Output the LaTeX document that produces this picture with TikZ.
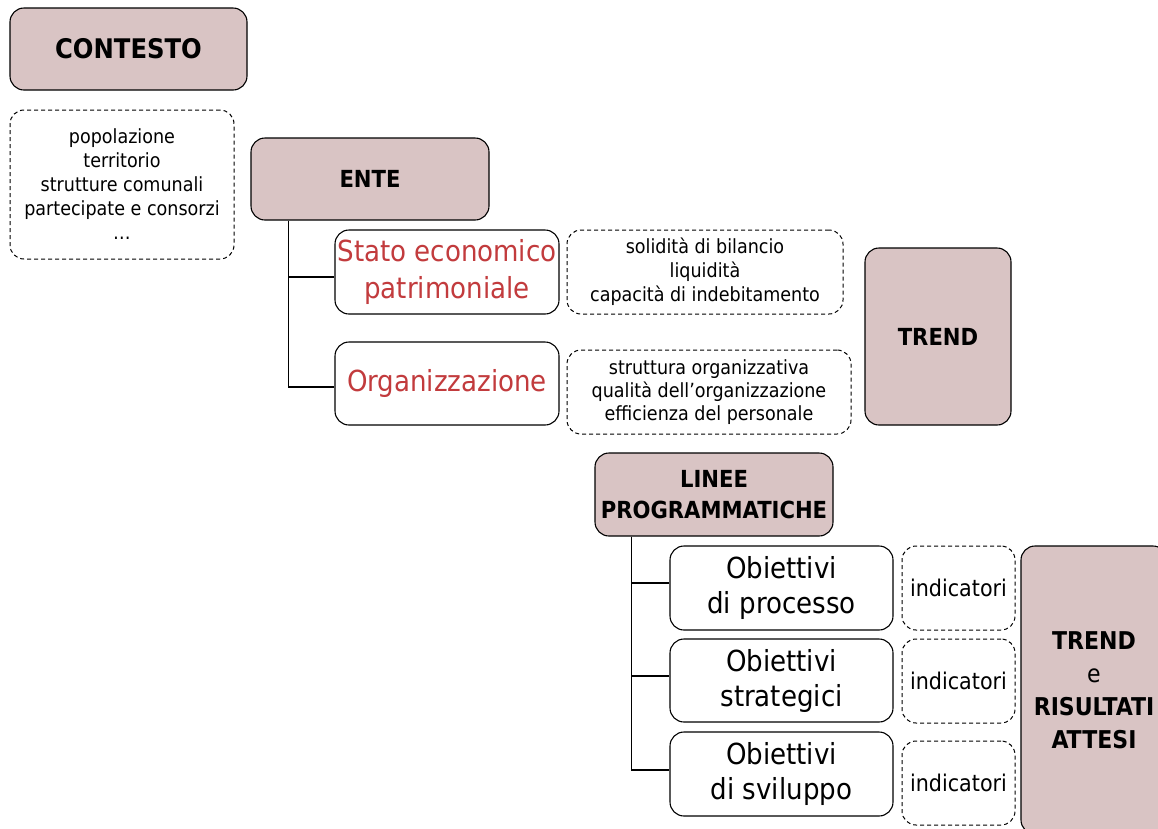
\documentclass[tikz,border=0pt]{standalone}
\usepackage{fontspec}
\setmainfont{DejaVu Sans Condensed}
\usetikzlibrary{positioning}
\definecolor{boxpink}{HTML}{D9C4C4}
\definecolor{textred}{HTML}{C23B3D}

\begin{document}
\begin{tikzpicture}[x=1pt,y=-1pt,
  headbox/.style={draw, line width=1.1pt, rounded corners=14pt, fill=boxpink, inner sep=0pt, align=center},
  itembox/.style={draw, line width=1.1pt, rounded corners=14pt, fill=white, inner sep=0pt, align=center},
  notebox/.style={draw, line width=1pt, dash pattern=on 4pt off 3pt, rounded corners=14pt, inner sep=0pt, align=center}]
\useasboundingbox (0,0) rectangle (1158,828);
\clip (0,0) rectangle (1158,828);

% contesto
\node[headbox, minimum width=237pt, minimum height=82pt, font=\fontsize{27}{32}\selectfont\bfseries] (contesto) at (128.5,49) {CONTESTO};
\node[notebox, minimum width=224pt, minimum height=149pt, font=\fontsize{19.5}{24}\selectfont] (ctxnote) at (122,184.5)
  {popolazione\\territorio\\strutture comunali\\partecipate e consorzi\\\dots};

% ente
\node[headbox, minimum width=238pt, minimum height=82pt, font=\fontsize{23.5}{28}\selectfont\bfseries] (ente) at (370,179) {ENTE};
\node[itembox, minimum width=224pt, minimum height=84pt, text=textred, font=\fontsize{29}{37}\selectfont] (stato) at (447,272) {Stato economico\\patrimoniale};
\node[notebox, minimum width=276pt, minimum height=84pt, font=\fontsize{19.5}{24}\selectfont] (statonote) at (705,272)
  {solidità di bilancio\\liquidità\\capacità di indebitamento};
\node[itembox, minimum width=224pt, minimum height=83pt, text=textred, font=\fontsize{29}{37}\selectfont] (organiz) at (447,383.5) {Organizzazione};
\node[notebox, minimum width=284pt, minimum height=84pt, font=\fontsize{19.5}{23}\selectfont] (organote) at (709,392)
  {struttura organizzativa\\qualità dell’organizzazione\\efficienza del personale};
\node[headbox, minimum width=146pt, minimum height=177pt, font=\fontsize{23.5}{28}\selectfont\bfseries] (trend) at (938,336.5) {TREND};

\draw[line width=1.1pt] ([xshift=38pt]ente.south west) |- ([yshift=-5pt]stato.west);
\draw[line width=1.1pt] ([xshift=38pt]ente.south west) |- ([yshift=-3.5pt]organiz.west);

% linee programmatiche
\node[headbox, minimum width=238pt, minimum height=83pt, font=\fontsize{23.5}{31}\selectfont\bfseries] (linee) at (714,494.5) {LINEE\\PROGRAMMATICHE};
\node[itembox, minimum width=223pt, minimum height=84pt, font=\fontsize{29}{35}\selectfont] (obproc) at (781.5,588) {Obiettivi\\di processo};
\node[itembox, minimum width=223pt, minimum height=83pt, font=\fontsize{29}{35}\selectfont] (obstrat) at (781.5,680.5) {Obiettivi\\strategici};
\node[itembox, minimum width=223pt, minimum height=84pt, font=\fontsize{29}{35}\selectfont] (obsvil) at (781.5,774) {Obiettivi\\di sviluppo};
\node[notebox, minimum width=113pt, minimum height=84pt, font=\fontsize{23}{28}\selectfont] (ind1) at (958.5,588) {indicatori};
\node[notebox, minimum width=113pt, minimum height=84pt, font=\fontsize{23}{28}\selectfont] (ind2) at (958.5,681) {indicatori};
\node[notebox, minimum width=113pt, minimum height=84pt, font=\fontsize{23}{28}\selectfont] (ind3) at (958.5,783) {indicatori};
\node[headbox, minimum width=146pt, minimum height=288pt, font=\fontsize{24.5}{33}\selectfont\bfseries] (risultati) at (1094,690)
  {TREND\\\mdseries e\\RISULTATI\\ATTESI};

\draw[line width=1.1pt] ([xshift=37pt]linee.south west) |- ([yshift=5pt]obproc.west);
\draw[line width=1.1pt] ([xshift=37pt]linee.south west) |- ([yshift=4.5pt]obstrat.west);
\draw[line width=1.1pt] ([xshift=37pt]linee.south west) |- ([yshift=4pt]obsvil.west);
\end{tikzpicture}
\end{document}
